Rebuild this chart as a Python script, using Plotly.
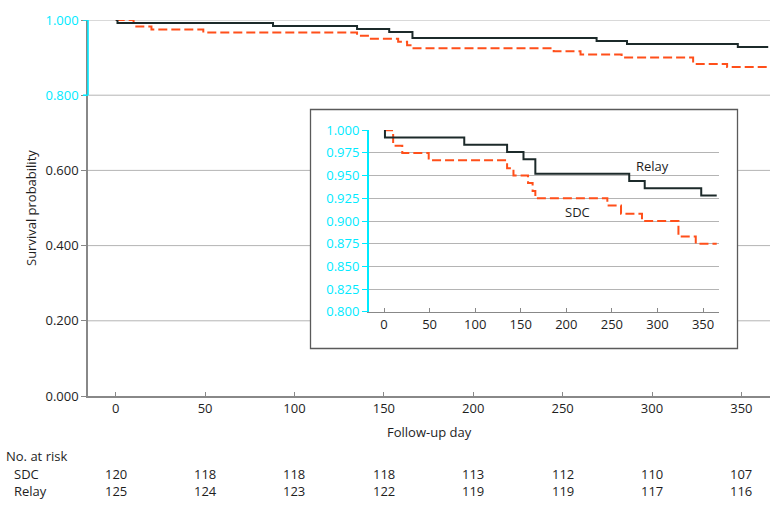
import plotly.graph_objects as go

# ---- data ----
relay_days = [0, 1, 88, 135, 153, 166, 269, 286, 348, 365]
relay_surv = [1.000, 0.992, 0.984, 0.976, 0.968, 0.952, 0.944, 0.936, 0.928, 0.928]
sdc_days = [0, 10, 20, 49, 135, 142, 158, 163, 166, 245, 260, 283, 323, 342, 365]
sdc_surv = [1.000, 0.983, 0.975, 0.967, 0.958, 0.950, 0.942, 0.933, 0.925, 0.917,
            0.908, 0.900, 0.883, 0.875, 0.875]
risk_days = [0, 50, 100, 150, 200, 250, 300, 350]
risk_sdc = [120, 118, 118, 118, 113, 112, 110, 107]
risk_relay = [125, 124, 123, 122, 119, 119, 117, 116]
main_yticks = [0.0, 0.2, 0.4, 0.6, 0.8, 1.0]

BLACK = "#1c2a2a"
ORANGE = "#ff4f1a"
CYAN = "#00eaff"
FONT = "Open Sans"
FS = 13
TXT = "#1e1e1e"

W, H = 780, 506
L, R, T, B = 88, 10, 20, 110
pw, ph = W - L - R, H - T - B


def px_x(p):
    return (p - L) / pw


def px_y(p):
    return (H - B - p) / ph


fig = go.Figure()

for xa, ya in (("x", "y"), ("x2", "y2")):
    fig.add_trace(go.Scatter(x=sdc_days, y=sdc_surv, mode="lines", line_shape="hv",
                             line=dict(color=ORANGE, width=2, dash="9px,4px"),
                             xaxis=xa, yaxis=ya, showlegend=False, hoverinfo="skip"))
    fig.add_trace(go.Scatter(x=relay_days, y=relay_surv, mode="lines", line_shape="hv",
                             line=dict(color=BLACK, width=2),
                             xaxis=xa, yaxis=ya, showlegend=False, hoverinfo="skip"))

shapes = []
# main gridlines (as shapes so the inset box can hide them)
for v in main_yticks[1:]:
    shapes.append(dict(type="line", xref="paper", yref="y", x0=0, x1=1, y0=v, y1=v,
                       line=dict(color="#b4b4b4", width=1), layer="below"))
# inset box
shapes.append(dict(type="rect", xref="paper", yref="paper",
                   x0=px_x(310.5), x1=px_x(737.5), y0=px_y(348.5), y1=px_y(109.5),
                   fillcolor="white", line=dict(color="#5a5a5a", width=1.3), layer="below"))
# cyan top part of main y axis, with its ticks
shapes.append(dict(type="line", xref="paper", yref="y", x0=0, x1=0, y0=0.8, y1=1.0,
                   line=dict(color=CYAN, width=1.6), layer="above"))
for v in main_yticks:
    if v >= 0.8:
        shapes.append(dict(type="line", xref="paper", yref="y", x0=px_x(83), x1=0,
                           y0=v, y1=v, line=dict(color=CYAN, width=1.5), layer="above"))

ticktext = []
for v in main_yticks:
    s = f"{v:.3f}"
    if v >= 0.8:
        s = f'<span style="color:{CYAN}">{s}</span>'
    ticktext.append(s)


def A(text, x, y, xref="paper", yref="paper", **kw):
    d = dict(text=text, xref=xref, yref=yref, x=x, y=y, showarrow=False,
             xanchor="center", yanchor="middle",
             font=dict(size=FS, color=TXT, family=FONT))
    d.update(kw)
    return d


ann = [
    A("Survival probability", px_x(31), 0.5, textangle=-90),
    A("Follow-up day", 0.5, px_y(432)),
    A("No. at risk", px_x(4), px_y(456), xanchor="left"),
    A("SDC", px_x(12), px_y(474), xanchor="left"),
    A("Relay", px_x(12), px_y(491), xanchor="left"),
]
for d, a, b in zip(risk_days, risk_sdc, risk_relay):
    ann.append(A(str(a), d, px_y(474), xref="x"))
    ann.append(A(str(b), d, px_y(491), xref="x"))
ann.append(A("Relay", 295, 0.9605, xref="x2", yref="y2"))
ann.append(A("SDC", 212, 0.910, xref="x2", yref="y2"))

fig.update_layout(
    width=W, height=H, margin=dict(l=L, r=R, t=T, b=B),
    paper_bgcolor="white", plot_bgcolor="white",
    font=dict(family=FONT, size=FS, color=TXT),
    shapes=shapes, annotations=ann,
    xaxis=dict(range=[-15.5, 366], tickvals=risk_days, ticks="inside", ticklen=4,
               tickcolor="#888888", showline=True, linecolor="#888888", linewidth=1.5,
               showgrid=False, zeroline=False, tickfont=dict(size=FS, color=TXT)),
    yaxis=dict(range=[0, 1], tickvals=main_yticks, ticktext=ticktext, ticks="outside",
               ticklen=5, tickcolor="#888888", showline=True, linecolor="#888888",
               linewidth=1.5, showgrid=False, zeroline=False,
               tickfont=dict(size=FS, color=TXT)),
    xaxis2=dict(domain=[px_x(369), px_x(719)], anchor="y2", range=[-16.5, 367.5],
                tickvals=risk_days, ticks="inside", ticklen=4, tickcolor="#888888",
                showline=True, linecolor="#888888", linewidth=1.2, showgrid=False,
                zeroline=False, tickfont=dict(size=FS, color=TXT)),
    yaxis2=dict(domain=[px_y(312), px_y(130)], anchor="x2", range=[0.7999, 1.0002],
                dtick=0.025, tick0=0.8, tickformat=".3f", ticks="outside", ticklen=5,
                tickcolor=CYAN, showline=True, linecolor=CYAN, linewidth=2,
                showgrid=True, gridcolor="#b4b4b4", gridwidth=1, zeroline=False,
                tickfont=dict(size=FS, color=CYAN)),
)

fig.write_html("out.html")
